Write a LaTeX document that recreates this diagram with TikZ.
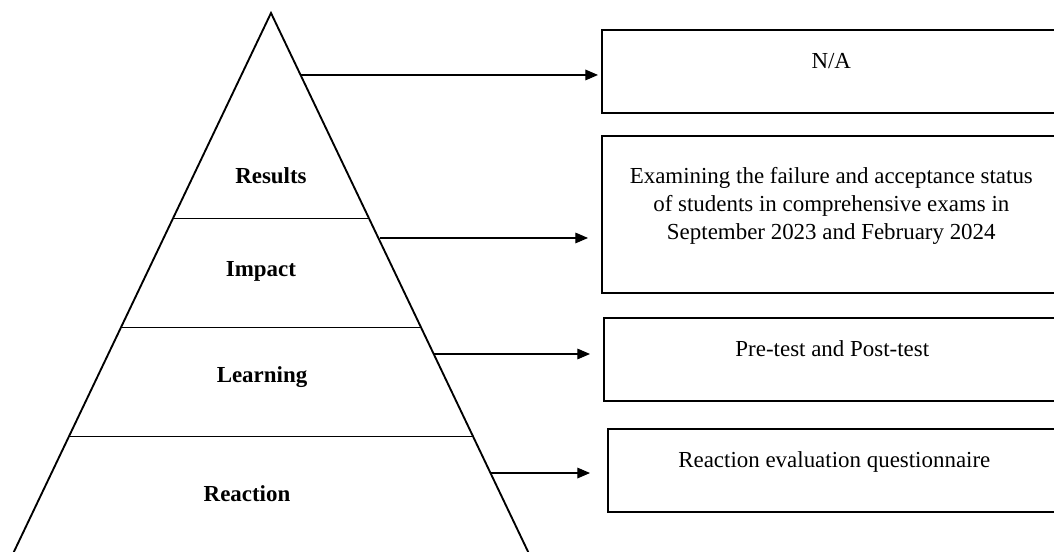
\documentclass[tikz,border=0pt]{standalone}
\usepackage{fontspec}
\setmainfont{Liberation Serif}
\usetikzlibrary{arrows.meta, positioning, calc}

\begin{document}
\begin{tikzpicture}[
        x=0.75pt, y=-0.75pt,
        font=\fontsize{17.2}{21}\selectfont,
        >={Triangle[length=9.5pt, width=8pt]},
        side/.style={line width=1.4pt},
        tier/.style={line width=0.7pt},
        lvl/.style={font=\fontsize{17.2}{21}\selectfont\bfseries, anchor=base},
        method/.style={draw, line width=1.2pt, anchor=north west, align=center, inner sep=0pt, text depth=16pt, minimum height=62.25pt},
        link/.style={->, line width=0.8pt}
    ]
        \useasboundingbox (0,0) rectangle (1054,552);
        \clip (0,0) rectangle (1054,552);
        % --- Piramida ---
        \coordinate (apex) at (271,13);
        \coordinate (bl) at (10,560);
        \coordinate (br) at (532,560);
        \draw[side, line join=miter] (bl) -- (apex) -- (br);
        \draw[tier] ($(apex)!0.3748!(bl)$) -- ($(apex)!0.3748!(br)$);
        \draw[tier] ($(apex)!0.574!(bl)$) -- ($(apex)!0.574!(br)$);
        \draw[tier] ($(apex)!0.775!(bl)$) -- ($(apex)!0.775!(br)$);
        % --- Nivoi ---
        \node[lvl] (results) at (271,184) {Results};
        \node[lvl] (impact) at (261,277) {Impact};
        \node[lvl] (learning) at (262,383) {Learning};
        \node[lvl] (reaction) at (247,501) {Reaction};
        % --- Metode ---
        \node[method, minimum width=344.25pt] (na) at (601,29) {N/A};
        \node[method, minimum width=344.25pt, minimum height=117.75pt] (exams) at (601,135)
            {Examining the failure and acceptance status\\ of students in comprehensive exams in\\ September 2023 and February 2024};
        \node[method, minimum width=342.75pt] (tests) at (603,317) {Pre-test and Post-test};
        \node[method, minimum width=339.75pt] (quest) at (607,428) {Reaction evaluation questionnaire};
        % --- Strelice ---
        \coordinate (s1) at ($(apex)!0.1133!(br)$);
        \coordinate (s2) at ($(apex)!0.4113!(br)$);
        \coordinate (s3) at ($(apex)!0.6234!(br)$);
        \coordinate (s4) at ($(apex)!0.841!(br)$);
        \draw[link, shorten >=2.25pt] (s1) -- (s1 -| na.west);
        \draw[link, shorten <=1.5pt, shorten >=9.75pt] (s2) -- (s2 -| exams.west);
        \draw[link, shorten >=9.75pt] (s3) -- (s3 -| tests.west);
        \draw[link, shorten >=12.75pt] (s4) -- (s4 -| quest.west);
\end{tikzpicture}
\end{document}
